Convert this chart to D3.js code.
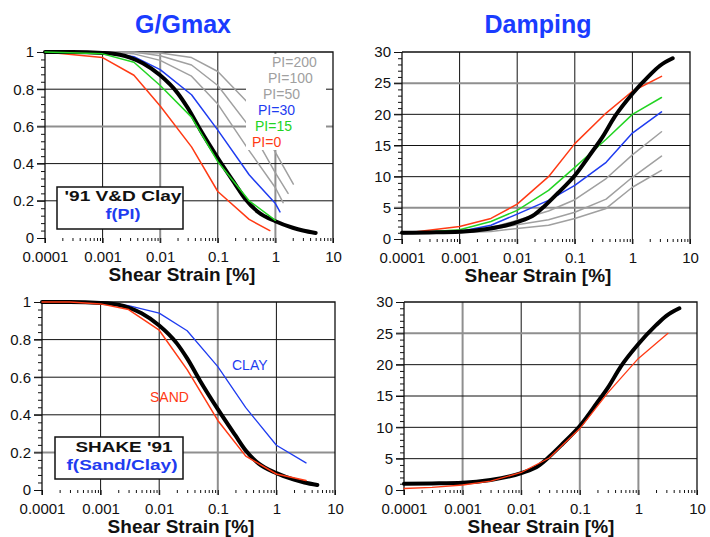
<!DOCTYPE html>
<html>
<head>
<meta charset="utf-8">
<script src="https://cdn.jsdelivr.net/npm/d3@7"></script>
<style>
  body { margin: 0; background: #fff; }
  svg { display: block; }
  text { font-family: "Liberation Sans", Arial, Helvetica, sans-serif; }
</style>
</head>
<body>
<svg id="chart" width="710" height="537"></svg>
<script>
// ---- strain axis ----
const strainDecades = [0.0001, 0.001, 0.01, 0.1, 1, 10];
const strainLabels = ["0.0001", "0.001", "0.01", "0.1", "1", "10"];

// ---- G/Gmax axis ----
const ggTicks = [0, 0.2, 0.4, 0.6, 0.8, 1];
const ggTickLabels = ["0", "0.2", "0.4", "0.6", "0.8", "1"];

// ---- damping axis ----
const dampTicks = [0, 5, 10, 15, 20, 25, 30];
const dampTickLabels = ["0", "5", "10", "15", "20", "25", "30"];

// ---- G/Gmax curves: [shear strain %, G/Gmax] ----
const ggReference = [[0.0001,1],[0.0003,1],[0.001,0.995],[0.002,0.985],[0.003,0.97],[0.005,0.94],[0.01,0.875],[0.02,0.78],[0.03,0.70],[0.05,0.58],[0.1,0.43],[0.2,0.29],[0.3,0.21],[0.5,0.14],[1,0.09],[2,0.055],[3,0.04],[5,0.027]];
const ggPI0   = [[0.0001,1],[0.001,0.97],[0.0035,0.875],[0.01,0.71],[0.035,0.49],[0.1,0.25],[0.35,0.10],[0.8,0.04]];
const ggPI15  = [[0.0001,1],[0.001,0.99],[0.0035,0.945],[0.01,0.82],[0.035,0.65],[0.1,0.41],[0.35,0.20],[1,0.095]];
const ggPI30  = [[0.0001,1],[0.001,1],[0.0035,0.975],[0.01,0.905],[0.035,0.77],[0.1,0.58],[0.35,0.34],[1,0.185],[1.2,0.14]];
const ggPI50  = [[0.0001,1],[0.001,1],[0.0035,0.99],[0.01,0.955],[0.035,0.87],[0.1,0.72],[0.35,0.47],[1,0.27],[1.36,0.19]];
const ggPI100 = [[0.0001,1],[0.001,1],[0.0035,1],[0.01,0.98],[0.035,0.93],[0.1,0.82],[0.35,0.60],[1,0.35],[1.66,0.24]];
const ggPI200 = [[0.0001,1],[0.001,1],[0.01,0.995],[0.035,0.97],[0.1,0.895],[0.35,0.72],[1,0.46],[2.05,0.29]];

// ---- damping curves: [shear strain %, damping %] ----
const dReference = [[0.0001,1.0],[0.0003,1.05],[0.001,1.15],[0.003,1.6],[0.01,2.7],[0.02,3.9],[0.03,5.3],[0.05,7.3],[0.1,10.2],[0.2,14],[0.3,16.3],[0.5,19.7],[1,23.3],[2,26.3],[3,27.8],[5,29]];
const dPI0   = [[0.0001,0.9],[0.001,2.0],[0.0035,3.3],[0.01,5.6],[0.035,10],[0.1,15.3],[0.35,20.2],[1,23.7],[3.2,26.1]];
const dPI15  = [[0.0001,0.9],[0.001,1.5],[0.0035,2.8],[0.01,4.6],[0.035,7.8],[0.1,11.5],[0.35,16],[1,20],[3.2,22.7]];
const dPI30  = [[0.0001,0.9],[0.001,1.2],[0.0035,2.2],[0.01,4.0],[0.035,6.2],[0.1,8.6],[0.35,12.3],[1,17],[3.2,20.4]];
const dPI50  = [[0.0001,0.9],[0.001,1.1],[0.0035,1.8],[0.01,3.0],[0.035,4.5],[0.1,6.3],[0.35,9.7],[1,13.5],[3.2,17.2]];
const dPI100 = [[0.0001,0.9],[0.001,1.0],[0.0035,1.5],[0.01,2.3],[0.035,3.1],[0.1,4.3],[0.35,6.4],[1,9.9],[3.2,13.3]];
const dPI200 = [[0.0001,0.9],[0.001,1.0],[0.0035,1.2],[0.01,1.7],[0.035,2.2],[0.1,3.3],[0.35,4.9],[1,8.3],[3.2,11]];

// ---- SHAKE '91 sand / clay ----
const ggSand = [[0.0001,1],[0.0003,1],[0.001,0.99],[0.003,0.96],[0.01,0.85],[0.03,0.64],[0.1,0.37],[0.3,0.18],[1,0.085],[3.2,0.05]];
const ggClay = [[0.0001,1],[0.0003,1],[0.001,1],[0.003,0.981],[0.01,0.941],[0.03,0.847],[0.1,0.656],[0.3,0.438],[1,0.238],[3.2,0.144]];
const dSand  = [[0.0001,0.24],[0.0003,0.42],[0.001,0.8],[0.003,1.4],[0.01,2.8],[0.03,5.1],[0.1,9.8],[0.3,15.5],[1,21],[3.2,25]];

// ---- legend labels ----
const piLabels = ["PI=200", "PI=100", "PI=50", "PI=30", "PI=15", "PI=0"];

const BLUE = "#1f3cf0", GREEN = "#22d422", RED = "#ff3a14", GRAY = "#a0a0a0", TITLE = "#1a3cff";
const INK = "#111", SOFT = "#8f8f8f";

const svg = d3.select("#chart");

function panel(o) {
  const g = svg.append("g");
  const x = d3.scaleLog().domain([0.0001, 10]).range([o.left, o.right]);
  const y = d3.scaleLinear().domain([0, o.yMax]).range([o.bottom, o.top]);
  const softX = o.softX || [], softY = o.softY || [];

  // vertical decade grid lines (run a little below the plot)
  g.append("g").selectAll("line").data(strainDecades.slice(1, -1)).join("line")
    .attr("x1", d => x(d)).attr("x2", d => x(d))
    .attr("y1", o.top).attr("y2", o.bottom + 5)
    .attr("stroke", d => softX.includes(d) ? SOFT : INK)
    .attr("stroke-width", d => softX.includes(d) ? 2 : 1);

  // horizontal grid lines at labelled values
  g.append("g").selectAll("line").data(o.yTicks.filter(v => v > 0 && v < o.yMax)).join("line")
    .attr("x1", o.left - 8).attr("x2", o.right)
    .attr("y1", d => y(d)).attr("y2", d => y(d))
    .attr("stroke", d => softY.includes(d) ? SOFT : INK)
    .attr("stroke-width", d => softY.includes(d) ? 2 : 1);

  // frame: top and right edges
  g.append("path")
    .attr("d", `M${o.left},${y(o.yMax)}H${o.right}V${o.bottom + 5}`)
    .attr("fill", "none").attr("stroke", INK).attr("stroke-width", 1.3);

  // y axis, major ticks with labels
  const yAxis = d3.axisLeft(y).tickValues(o.yTicks).tickSize(8).tickPadding(3)
    .tickFormat((d, i) => o.yLabels[i]);
  const ya = g.append("g").attr("transform", `translate(${o.left},0)`).call(yAxis);
  ya.select(".domain").remove();
  ya.selectAll("line").attr("stroke", INK);
  ya.selectAll("text").attr("font-size", 15).attr("fill", INK)
    .attr("font-family", '"Liberation Sans", Arial, sans-serif');

  // y axis minor ticks
  const minorY = d3.range(0, o.yMax + 1e-9, o.yMinor).filter(v => !o.yTicks.some(t => Math.abs(t - v) < 1e-9));
  const ym = g.append("g").attr("transform", `translate(${o.left},0)`)
    .call(d3.axisLeft(y).tickValues(minorY).tickSize(4).tickFormat(""));
  ym.select(".domain").remove();
  ym.selectAll("line").attr("stroke", INK);

  // left axis line
  g.append("line").attr("x1", o.left).attr("x2", o.left)
    .attr("y1", y(o.yMax)).attr("y2", o.bottom + 5)
    .attr("stroke", INK).attr("stroke-width", 1.3);

  // x axis: decade ticks + labels
  const xa = g.append("g").attr("transform", `translate(0,${o.bottom})`)
    .call(d3.axisBottom(x).tickValues(strainDecades).tickSize(5).tickPadding(8)
      .tickFormat((d, i) => strainLabels[i]));
  xa.select(".domain").remove();
  xa.selectAll("line").attr("stroke", INK);
  xa.selectAll("text").attr("font-size", 15).attr("fill", INK)
    .attr("font-family", '"Liberation Sans", Arial, sans-serif');

  // x axis minor ticks 2..9 in each decade
  const minorX = [];
  strainDecades.slice(0, -1).forEach(d => { for (let k = 2; k <= 9; k++) minorX.push(d * k); });
  const xm = g.append("g").attr("transform", `translate(0,${o.bottom})`)
    .call(d3.axisBottom(x).tickValues(minorX).tickSize(3).tickFormat(""));
  xm.select(".domain").remove();
  xm.selectAll("line").attr("stroke", INK);

  // axis title
  g.append("text").attr("x", o.xTitleX).attr("y", o.bottom + 43)
    .attr("text-anchor", "middle").attr("font-size", 19).attr("font-weight", "bold")
    .attr("fill", INK).text("Shear Strain [%]");

  // curves
  const line = d3.line().x(d => x(d[0])).y(d => y(d[1]));
  o.series.forEach(s => {
    g.append("path").datum(s.data)
      .attr("d", line.curve(s.smooth ? d3.curveMonotoneX : d3.curveLinear))
      .attr("fill", "none").attr("stroke", s.color).attr("stroke-width", s.width)
      .attr("stroke-linejoin", "round").attr("stroke-linecap", "round");
  });
  return { g, x, y };
}

// two-line caption box, text stretched to the box width
function captionBox(g, bx, by, bw, bh, lines) {
  g.append("rect").attr("x", bx).attr("y", by).attr("width", bw).attr("height", bh)
    .attr("fill", "#fff").attr("stroke", INK).attr("stroke-width", 1.5);
  lines.forEach(l => {
    g.append("text").attr("x", l.x).attr("y", l.y).attr("text-anchor", "middle")
      .attr("font-size", 15.5).attr("font-weight", "bold").attr("fill", l.color)
      .attr("textLength", l.w).attr("lengthAdjust", "spacingAndGlyphs").text(l.text);
  });
}

// panel titles
svg.append("text").attr("x", 183).attr("y", 33).attr("text-anchor", "middle")
  .attr("font-size", 25).attr("font-weight", "bold").attr("fill", TITLE).text("G/Gmax");
svg.append("text").attr("x", 538).attr("y", 33).attr("text-anchor", "middle")
  .attr("font-size", 25).attr("font-weight", "bold").attr("fill", TITLE).text("Damping");

// ---- top-left: G/Gmax vs PI ----
const tl = panel({
  left: 45, right: 333, top: 52, bottom: 238, yMax: 1,
  yTicks: ggTicks, yLabels: ggTickLabels, yMinor: 0.04, xTitleX: 182,
  softX: [0.01, 1], softY: [0.6],
  series: [
    { data: ggPI200, color: GRAY, width: 1.5 },
    { data: ggPI100, color: GRAY, width: 1.5 },
    { data: ggPI50,  color: GRAY, width: 1.5 },
    { data: ggPI0,   color: RED,  width: 1.5 },
    { data: ggPI30,  color: BLUE, width: 1.5 },
    { data: ggReference, color: "#000", width: 4, smooth: true },
    { data: ggPI15,  color: GREEN, width: 1.5 }
  ]
});

// PI labels sit on a white band that masks the lines behind them
const piColors = [GRAY, GRAY, GRAY, BLUE, GREEN, RED];
const piX = [272, 268, 263, 258, 255, 252];
const piBand = tl.g.append("g");
piLabels.forEach((t, i) => {
  const cy = 62 + i * 16;
  piBand.append("rect").attr("x", 246).attr("y", cy - 8).attr("width", 80).attr("height", 16).attr("fill", "#fff");
});
piLabels.forEach((t, i) => {
  const cy = 62 + i * 16;
  piBand.append("text").attr("x", piX[i]).attr("y", cy + 5).attr("font-size", 14)
    .attr("fill", piColors[i]).text(t);
});

captionBox(tl.g, 57, 187, 126, 42, [
  { text: "'91 V&D Clay", x: 123, y: 201, w: 117, color: INK },
  { text: "f(PI)", x: 123, y: 219, w: 35, color: BLUE }
]);

// ---- top-right: damping vs PI ----
panel({
  left: 402, right: 690, top: 52, bottom: 239, yMax: 30,
  yTicks: dampTicks, yLabels: dampTickLabels, yMinor: 1, xTitleX: 538,
  softY: [25, 5],
  series: [
    { data: dPI200, color: GRAY, width: 1.5 },
    { data: dPI100, color: GRAY, width: 1.5 },
    { data: dPI50,  color: GRAY, width: 1.5 },
    { data: dPI30,  color: BLUE, width: 1.5 },
    { data: dPI15,  color: GREEN, width: 1.5 },
    { data: dPI0,   color: RED, width: 1.5 },
    { data: dReference, color: "#000", width: 4, smooth: true }
  ]
});

// ---- bottom-left: G/Gmax, SHAKE '91 ----
const bl = panel({
  left: 42, right: 335, top: 302, bottom: 490, yMax: 1,
  yTicks: ggTicks, yLabels: ggTickLabels, yMinor: 0.04, xTitleX: 181,
  softX: [0.1], softY: [0.2],
  series: [
    { data: ggClay, color: BLUE, width: 1.3 },
    { data: ggReference, color: "#000", width: 4, smooth: true },
    { data: ggSand, color: RED, width: 1.5 }
  ]
});
bl.g.append("text").attr("x", 232).attr("y", 370).attr("font-size", 14).attr("fill", BLUE).text("CLAY");
bl.g.append("text").attr("x", 150).attr("y", 402).attr("font-size", 14).attr("fill", RED).text("SAND");
captionBox(bl.g, 55, 437, 128, 42, [
  { text: "SHAKE '91", x: 124, y: 452, w: 97, color: INK },
  { text: "f(Sand/Clay)", x: 122, y: 470, w: 111, color: BLUE }
]);

// ---- bottom-right: damping, SHAKE '91 ----
panel({
  left: 404, right: 697, top: 302, bottom: 490, yMax: 30,
  yTicks: dampTicks, yLabels: dampTickLabels, yMinor: 1, xTitleX: 541,
  softX: [0.001, 0.1, 1], softY: [25],
  series: [
    { data: dReference, color: "#000", width: 4, smooth: true },
    { data: dSand, color: RED, width: 1.3 }
  ]
});
</script>
</body>
</html>
